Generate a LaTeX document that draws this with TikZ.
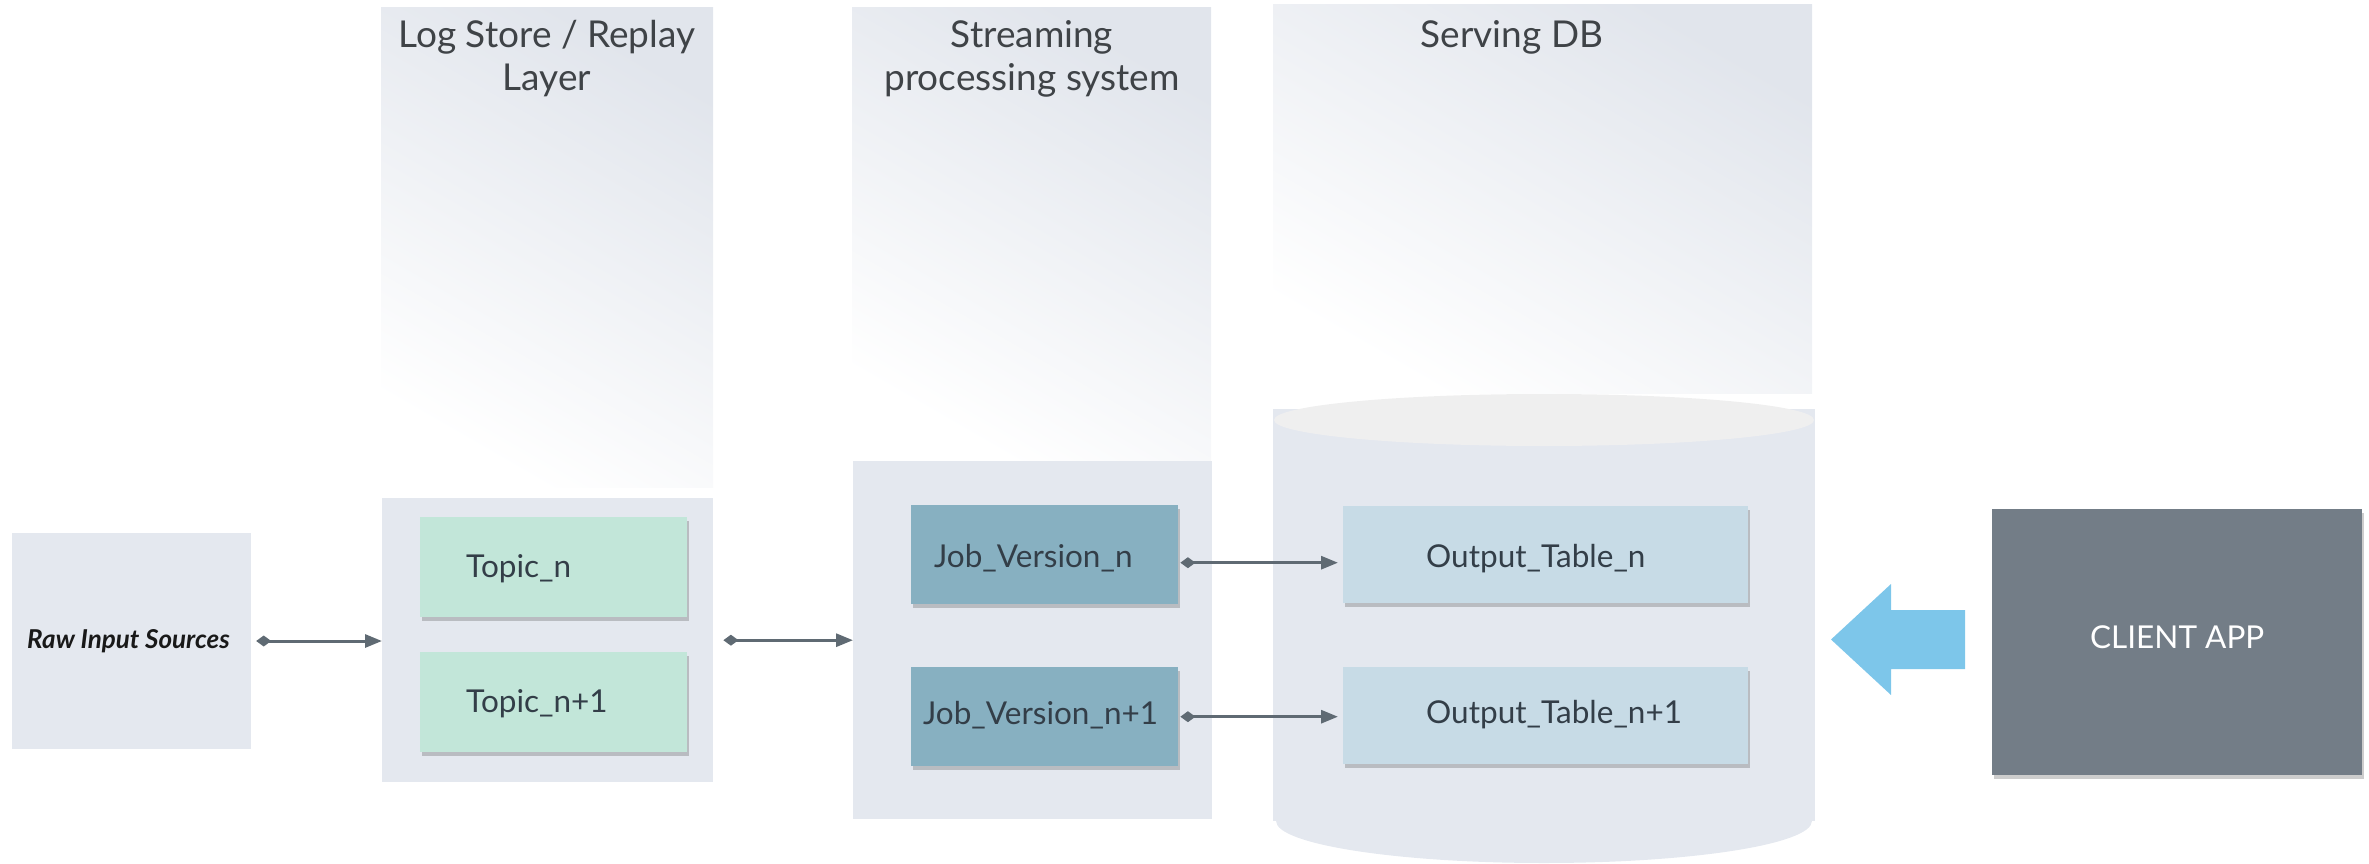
\documentclass[tikz,border=0pt]{standalone}
\usepackage{fontspec}
\setmainfont{Lato}
\usetikzlibrary{arrows.meta,shadows}

\definecolor{panel}{HTML}{E4E8EF}
\definecolor{panelshade}{HTML}{E1E5EC}
\definecolor{topic}{HTML}{C2E6D9}
\definecolor{job}{HTML}{87B0C1}
\definecolor{outtab}{HTML}{C7DBE6}
\definecolor{client}{HTML}{737D87}
\definecolor{pointer}{HTML}{7DC6EA}
\definecolor{linkgrey}{HTML}{5F6A73}
\definecolor{ink}{HTML}{333E48}
\definecolor{titleink}{HTML}{3F4347}
\definecolor{dbtop}{HTML}{EFEFEF}

\begin{document}
\begin{tikzpicture}[x=1pt,y=-1pt,
  panelbox/.style={fill=panel, draw=none, inner sep=0pt, anchor=north west},
  headpanel/.style={shading=axis, top color=panelshade, bottom color=white,
    shading angle=-30, draw=none, inner sep=0pt, anchor=north west},
  title/.style={text=titleink, font=\fontsize{37}{43}\selectfont, align=center, inner sep=0pt},
  card/.style={draw=none, inner ysep=0pt, text=ink, anchor=north west,
    font=\fontsize{31.5}{36}\selectfont, align=left,
    text height=22pt, text depth=7pt,
    drop shadow={shadow xshift=2pt, shadow yshift=-4pt, opacity=0.28, fill=black!70}},
  padded/.style={inner xsep=#1, text width=\cardwidth-2*#1},
  lowered/.style={text height=#1},
  lowered/.default=32pt,
  link/.style={draw=linkgrey, line width=3pt,
    {Diamond[length=15pt,width=11pt]}-{Triangle[length=17pt,width=13pt]}},
]
\useasboundingbox (0,0) rectangle (2369,864);

% ---------- column backgrounds ----------
\node[headpanel, minimum width=332pt, minimum height=480pt] (loghead) at (381,7) {};
\node[headpanel, minimum width=359pt, minimum height=454pt] (strhead) at (852,7) {};
\node[headpanel, minimum width=539pt, minimum height=389pt] (dbhead) at (1273,4) {};

\node[panelbox, minimum width=331pt, minimum height=284pt] (logp) at (382,498) {};
\node[panelbox, minimum width=359pt, minimum height=358pt] (strp) at (853,461) {};

% ---------- column titles ----------
\node[title, anchor=north] (logtitle) at (547,20) {Log Store / Replay\\Layer};
\node[title, anchor=north] (strtitle) at (1032,20) {Streaming\\processing system};
\node[title, anchor=base] (dbtitle) at (1512,48) {Serving DB};

% ---------- raw input ----------
\node[panelbox, anchor=center, minimum width=239pt, minimum height=216pt,
      text=black!90, font=\fontsize{26}{30}\selectfont\bfseries\itshape]
      (raw) at (131.5,641) {Raw Input Sources\hspace*{6pt}};

% ---------- serving database cylinder ----------
\fill[panel] (1273,409) rectangle (1815,821);
\fill[panel] (1544,821) ellipse [x radius=268pt, y radius=42pt];
\fill[dbtop] (1544,420) ellipse [x radius=270pt, y radius=26pt];

% ---------- topics ----------
\def\cardwidth{267pt}
\node[card, fill=topic, minimum width=267pt, minimum height=100pt, padded=46pt, lowered=27pt] (t1) at (420,517) {Topic\_n};
\node[card, fill=topic, minimum width=267pt, minimum height=100pt, padded=46pt, lowered=27pt] (t2) at (420,652) {Topic\_n+1};

% ---------- job versions ----------
\node[card, fill=job, minimum width=267pt, minimum height=99pt, padded=23pt, lowered] (j1) at (911,505) {Job\_Version\_n};
\node[card, fill=job, minimum width=267pt, minimum height=99pt, padded=12pt] (j2) at (911,667) {Job\_Version\_n+1};

% ---------- output tables ----------
\def\cardwidth{405pt}
\node[card, fill=outtab, minimum width=405pt, minimum height=97pt, padded=83pt, lowered] (o1) at (1343,506) {Output\_Table\_n};
\node[card, fill=outtab, minimum width=405pt, minimum height=97pt, padded=83pt] (o2) at (1343,667) {Output\_Table\_n+1};

% ---------- client application ----------
\node[card, fill=client, text=white, align=center, inner xsep=0pt, text depth=10pt,
      minimum width=370pt, minimum height=266pt] (client) at (1992,509) {CLIENT APP};

% query arrow from the client into the database
\fill[pointer] (1965,610) -- (1891,610) -- (1891,584) -- (1831,639.5)
  -- (1891,695) -- (1891,669) -- (1965,669) -- cycle;

% ---------- connectors ----------
\draw[link, shorten <=5pt] (raw.east) -- (raw.east -| logp.west);
\draw[link, shorten <=10pt] (logp.east) -- (logp.east -| strp.west);
\draw[link, shorten <=2pt, shorten >=5pt] ([yshift=-8pt]j1.east) -- ([yshift=-8pt]j1.east -| o1.west);
\draw[link, shorten <=2pt, shorten >=5pt] (j2.east) -- (j2.east -| o2.west);
\end{tikzpicture}
\end{document}
